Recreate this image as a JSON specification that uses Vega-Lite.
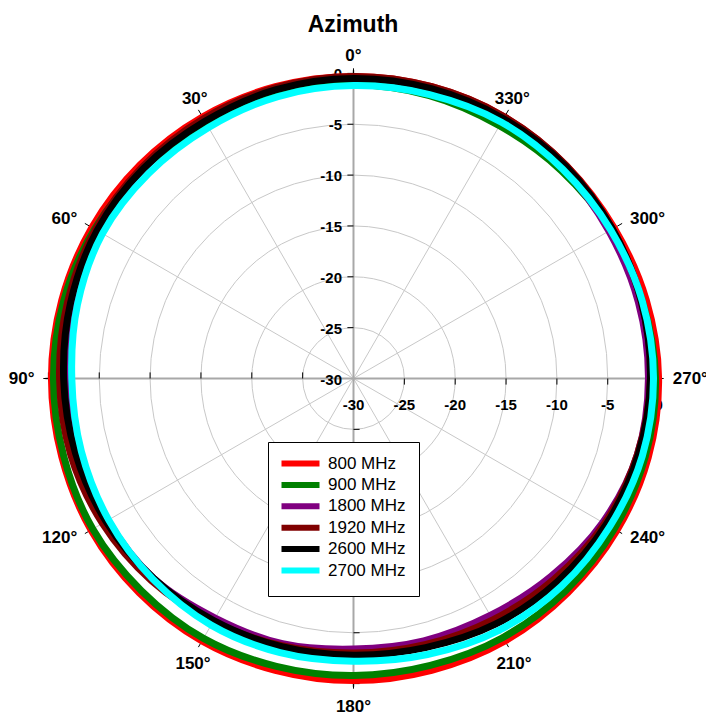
{
  "$schema": "https://vega.github.io/schema/vega-lite/v6.json",
  "width": 706,
  "height": 677,
  "autosize": {"type": "none"},
  "padding": {"top": 40, "left": 0, "right": 0, "bottom": 0},
  "background": "white",
  "title": {"text": "Azimuth", "font": "Liberation Sans", "fontSize": 23, "fontWeight": "bold", "color": "black", "anchor": "middle", "frame": "group", "offset": -15, "baseline": "alphabetic"},
  "config": {"view": {"stroke": null}},
  "datasets": {
    "pat": [
      {"f":"800 MHz","a":0,"d":-0.3},{"f":"800 MHz","a":15,"d":-0.3},{"f":"800 MHz","a":30,"d":-0.3},{"f":"800 MHz","a":45,"d":-0.3},{"f":"800 MHz","a":60,"d":-0.3},{"f":"800 MHz","a":75,"d":-0.3},{"f":"800 MHz","a":90,"d":-0.3},{"f":"800 MHz","a":105,"d":-0.3},{"f":"800 MHz","a":120,"d":-0.2},{"f":"800 MHz","a":135,"d":-0.2},{"f":"800 MHz","a":150,"d":-0.2},{"f":"800 MHz","a":165,"d":-0.3},{"f":"800 MHz","a":180,"d":-0.3},{"f":"800 MHz","a":195,"d":-0.3},{"f":"800 MHz","a":210,"d":-0.2},{"f":"800 MHz","a":225,"d":-0.2},{"f":"800 MHz","a":240,"d":-0.1},{"f":"800 MHz","a":255,"d":0.0},{"f":"800 MHz","a":270,"d":0.0},{"f":"800 MHz","a":285,"d":-0.2},{"f":"800 MHz","a":300,"d":-0.4},{"f":"800 MHz","a":315,"d":-0.4},{"f":"800 MHz","a":330,"d":-0.3},{"f":"800 MHz","a":345,"d":-0.3},
      {"f":"900 MHz","a":0,"d":-1.1},{"f":"900 MHz","a":15,"d":-0.9},{"f":"900 MHz","a":30,"d":-1.0},{"f":"900 MHz","a":45,"d":-0.8},{"f":"900 MHz","a":60,"d":-0.6},{"f":"900 MHz","a":75,"d":-0.5},{"f":"900 MHz","a":90,"d":-0.5},{"f":"900 MHz","a":105,"d":-0.5},{"f":"900 MHz","a":120,"d":-0.4},{"f":"900 MHz","a":135,"d":-0.5},{"f":"900 MHz","a":150,"d":-0.5},{"f":"900 MHz","a":165,"d":-0.7},{"f":"900 MHz","a":180,"d":-0.8},{"f":"900 MHz","a":195,"d":-0.8},{"f":"900 MHz","a":210,"d":-0.6},{"f":"900 MHz","a":225,"d":-0.5},{"f":"900 MHz","a":240,"d":-0.4},{"f":"900 MHz","a":255,"d":-0.3},{"f":"900 MHz","a":270,"d":-0.3},{"f":"900 MHz","a":285,"d":-0.6},{"f":"900 MHz","a":300,"d":-0.8},{"f":"900 MHz","a":315,"d":-1.1},{"f":"900 MHz","a":330,"d":-1.3},{"f":"900 MHz","a":345,"d":-1.2},
      {"f":"1800 MHz","a":0,"d":-0.4},{"f":"1800 MHz","a":15,"d":-0.5},{"f":"1800 MHz","a":30,"d":-0.7},{"f":"1800 MHz","a":45,"d":-0.8},{"f":"1800 MHz","a":60,"d":-1.0},{"f":"1800 MHz","a":75,"d":-1.4},{"f":"1800 MHz","a":90,"d":-1.8},{"f":"1800 MHz","a":105,"d":-2.0},{"f":"1800 MHz","a":120,"d":-2.1},{"f":"1800 MHz","a":135,"d":-2.2},{"f":"1800 MHz","a":150,"d":-2.8},{"f":"1800 MHz","a":165,"d":-3.0},{"f":"1800 MHz","a":180,"d":-3.4},{"f":"1800 MHz","a":195,"d":-3.3},{"f":"1800 MHz","a":210,"d":-3.1},{"f":"1800 MHz","a":225,"d":-2.5},{"f":"1800 MHz","a":240,"d":-1.7},{"f":"1800 MHz","a":255,"d":-1.1},{"f":"1800 MHz","a":270,"d":-1.0},{"f":"1800 MHz","a":285,"d":-1.0},{"f":"1800 MHz","a":300,"d":-1.0},{"f":"1800 MHz","a":315,"d":-0.8},{"f":"1800 MHz","a":330,"d":-0.5},{"f":"1800 MHz","a":345,"d":-0.4},
      {"f":"1920 MHz","a":0,"d":-0.3},{"f":"1920 MHz","a":15,"d":-0.4},{"f":"1920 MHz","a":30,"d":-0.5},{"f":"1920 MHz","a":45,"d":-0.6},{"f":"1920 MHz","a":60,"d":-0.7},{"f":"1920 MHz","a":75,"d":-0.9},{"f":"1920 MHz","a":90,"d":-1.1},{"f":"1920 MHz","a":105,"d":-1.2},{"f":"1920 MHz","a":120,"d":-1.5},{"f":"1920 MHz","a":135,"d":-1.9},{"f":"1920 MHz","a":150,"d":-2.4},{"f":"1920 MHz","a":165,"d":-2.8},{"f":"1920 MHz","a":180,"d":-3.0},{"f":"1920 MHz","a":195,"d":-2.9},{"f":"1920 MHz","a":210,"d":-2.6},{"f":"1920 MHz","a":225,"d":-2.1},{"f":"1920 MHz","a":240,"d":-1.5},{"f":"1920 MHz","a":255,"d":-1.1},{"f":"1920 MHz","a":270,"d":-0.8},{"f":"1920 MHz","a":285,"d":-0.7},{"f":"1920 MHz","a":300,"d":-0.6},{"f":"1920 MHz","a":315,"d":-0.4},{"f":"1920 MHz","a":330,"d":-0.3},{"f":"1920 MHz","a":345,"d":-0.3},
      {"f":"2600 MHz","a":0,"d":-0.5},{"f":"2600 MHz","a":15,"d":-0.6},{"f":"2600 MHz","a":30,"d":-0.8},{"f":"2600 MHz","a":45,"d":-0.8},{"f":"2600 MHz","a":60,"d":-0.9},{"f":"2600 MHz","a":75,"d":-1.2},{"f":"2600 MHz","a":90,"d":-1.5},{"f":"2600 MHz","a":105,"d":-1.7},{"f":"2600 MHz","a":120,"d":-1.9},{"f":"2600 MHz","a":135,"d":-2.2},{"f":"2600 MHz","a":150,"d":-2.5},{"f":"2600 MHz","a":165,"d":-2.7},{"f":"2600 MHz","a":180,"d":-2.8},{"f":"2600 MHz","a":195,"d":-2.6},{"f":"2600 MHz","a":210,"d":-2.1},{"f":"2600 MHz","a":225,"d":-1.7},{"f":"2600 MHz","a":240,"d":-1.3},{"f":"2600 MHz","a":255,"d":-1.0},{"f":"2600 MHz","a":270,"d":-0.8},{"f":"2600 MHz","a":285,"d":-0.7},{"f":"2600 MHz","a":300,"d":-0.6},{"f":"2600 MHz","a":315,"d":-0.5},{"f":"2600 MHz","a":330,"d":-0.5},{"f":"2600 MHz","a":345,"d":-0.5},
      {"f":"2700 MHz","a":0,"d":-1.2},{"f":"2700 MHz","a":15,"d":-1.3},{"f":"2700 MHz","a":30,"d":-1.5},{"f":"2700 MHz","a":45,"d":-1.5},{"f":"2700 MHz","a":60,"d":-1.5},{"f":"2700 MHz","a":75,"d":-1.9},{"f":"2700 MHz","a":90,"d":-2.3},{"f":"2700 MHz","a":105,"d":-2.3},{"f":"2700 MHz","a":120,"d":-2.2},{"f":"2700 MHz","a":135,"d":-2.1},{"f":"2700 MHz","a":150,"d":-2.0},{"f":"2700 MHz","a":165,"d":-2.1},{"f":"2700 MHz","a":180,"d":-2.2},{"f":"2700 MHz","a":195,"d":-1.9},{"f":"2700 MHz","a":210,"d":-1.4},{"f":"2700 MHz","a":225,"d":-1.1},{"f":"2700 MHz","a":240,"d":-0.9},{"f":"2700 MHz","a":255,"d":-0.6},{"f":"2700 MHz","a":270,"d":-0.5},{"f":"2700 MHz","a":285,"d":-0.6},{"f":"2700 MHz","a":300,"d":-0.8},{"f":"2700 MHz","a":315,"d":-0.9},{"f":"2700 MHz","a":330,"d":-0.9},{"f":"2700 MHz","a":345,"d":-1.1}
    ],
    "rlab": [
      {"v":-30,"t":"-30"},{"v":-25,"t":"-25"},{"v":-20,"t":"-20"},{"v":-15,"t":"-15"},{"v":-10,"t":"-10"},{"v":-5,"t":"-5"},{"v":0,"t":"0"}
    ],
    "rtick": [{"v":-25},{"v":-20},{"v":-15},{"v":-10},{"v":-5},{"v":0}]
  },
  "encoding": {
    "x": {"field": "px", "type": "quantitative", "scale": {"domain": [-34.759, 34.661], "nice": false, "zero": false}, "axis": null},
    "y": {"field": "py", "type": "quantitative", "scale": {"domain": [-33.284, 33.284], "nice": false, "zero": false}, "axis": null}
  },
  "layer": [
    {
      "data": {"values": [{"v": -25}, {"v": -20}, {"v": -15}, {"v": -10}, {"v": -5}]},
      "transform": [{"calculate": "datum.v + 30", "as": "rr"}, {"calculate": "0", "as": "px"}, {"calculate": "0", "as": "py"}],
      "mark": {"type": "point", "shape": "circle", "filled": false, "stroke": "#c8c8c8", "strokeWidth": 1, "opacity": 1},
      "encoding": {
        "size": {"field": "rr", "type": "quantitative", "legend": null, "scale": {"type": "pow", "exponent": 2, "domain": [0, 30], "range": [0, 372344], "zero": true}}
      }
    },
    {
      "data": {"values": [{"a": 30}, {"a": 60}, {"a": 120}, {"a": 150}, {"a": 210}, {"a": 240}, {"a": 300}, {"a": 330}]},
      "transform": [
        {"calculate": "0", "as": "px"}, {"calculate": "0", "as": "py"},
        {"calculate": "-30*sin(datum.a*PI/180)", "as": "px2"},
        {"calculate": "30*cos(datum.a*PI/180)", "as": "py2"}
      ],
      "mark": {"type": "rule", "stroke": "#c8c8c8", "strokeWidth": 1},
      "encoding": {"x2": {"field": "px2"}, "y2": {"field": "py2"}}
    },
    {
      "data": {"values": [{"a": 0}, {"a": 90}, {"a": 180}, {"a": 270}]},
      "transform": [
        {"calculate": "0", "as": "px"}, {"calculate": "0", "as": "py"},
        {"calculate": "-30.3*sin(datum.a*PI/180)", "as": "px2"},
        {"calculate": "30.3*cos(datum.a*PI/180)", "as": "py2"}
      ],
      "mark": {"type": "rule", "stroke": "#a8a8a8", "strokeWidth": 2},
      "encoding": {"x2": {"field": "px2"}, "y2": {"field": "py2"}}
    },
    {
      "data": {"name": "rtick"},
      "transform": [{"calculate": "-0.6", "as": "px"}, {"calculate": "datum.v+30", "as": "py"}, {"calculate": "0", "as": "px2"}],
      "mark": {"type": "rule", "stroke": "black", "strokeWidth": 1},
      "encoding": {"x2": {"field": "px2"}}
    },
    {
      "data": {"name": "rtick"},
      "transform": [{"calculate": "-(datum.v+30)", "as": "px"}, {"calculate": "0", "as": "py"}, {"calculate": "0.6", "as": "py2"}],
      "mark": {"type": "rule", "stroke": "black", "strokeWidth": 1},
      "encoding": {"y2": {"field": "py2"}}
    },
    {
      "data": {"name": "rtick"},
      "transform": [{"calculate": "0.6", "as": "px"}, {"calculate": "-(datum.v+30)", "as": "py"}, {"calculate": "0", "as": "px2"}],
      "mark": {"type": "rule", "stroke": "black", "strokeWidth": 1},
      "encoding": {"x2": {"field": "px2"}}
    },
    {
      "data": {"name": "rtick"},
      "transform": [{"calculate": "datum.v+30", "as": "px"}, {"calculate": "0", "as": "py"}, {"calculate": "-0.6", "as": "py2"}],
      "mark": {"type": "rule", "stroke": "black", "strokeWidth": 1},
      "encoding": {"y2": {"field": "py2"}}
    },
    {
      "data": {"values": [{"a": 0}, {"a": 30}, {"a": 60}, {"a": 90}, {"a": 120}, {"a": 150}, {"a": 180}, {"a": 210}, {"a": 240}, {"a": 270}, {"a": 300}, {"a": 330}]},
      "transform": [
        {"calculate": "-29.95*sin(datum.a*PI/180)", "as": "px"},
        {"calculate": "29.95*cos(datum.a*PI/180)", "as": "py"},
        {"calculate": "-30.5*sin(datum.a*PI/180)", "as": "px2"},
        {"calculate": "30.5*cos(datum.a*PI/180)", "as": "py2"}
      ],
      "mark": {"type": "rule", "stroke": "black", "strokeWidth": 1},
      "encoding": {"x2": {"field": "px2"}, "y2": {"field": "py2"}}
    },
    {
      "data": {"name": "rlab"},
      "transform": [{"calculate": "0", "as": "px"}, {"calculate": "datum.v+30", "as": "py"}],
      "mark": {"type": "text", "align": "right", "baseline": "middle", "dx": -11.5, "dy": 1, "font": "Liberation Sans", "fontSize": 15, "fontWeight": "bold", "color": "black"},
      "encoding": {"text": {"field": "t"}}
    },
    {
      "data": {"name": "rlab"},
      "transform": [{"calculate": "datum.v+30", "as": "px"}, {"calculate": "0", "as": "py"}],
      "mark": {"type": "text", "align": "center", "baseline": "middle", "dy": 26, "font": "Liberation Sans", "fontSize": 15, "fontWeight": "bold", "color": "black"},
      "encoding": {"text": {"field": "t"}}
    },
    {
      "data": {"values": [{"a": 330, "t": "330°"}, {"a": 0, "t": "0°"}, {"a": 30, "t": "30°"}]},
      "transform": [{"calculate": "-31.22*sin(datum.a*PI/180)", "as": "px"}, {"calculate": "31.22*cos(datum.a*PI/180)", "as": "py"}],
      "mark": {"type": "text", "align": "center", "baseline": "alphabetic", "font": "Liberation Sans", "fontSize": 17, "fontWeight": "bold", "color": "black"},
      "encoding": {"text": {"field": "t"}}
    },
    {
      "data": {"values": [{"a": 60, "t": "60°"}, {"a": 90, "t": "90°"}, {"a": 120, "t": "120°"}]},
      "transform": [{"calculate": "-31.37*sin(datum.a*PI/180)", "as": "px"}, {"calculate": "31.37*cos(datum.a*PI/180)", "as": "py"}],
      "mark": {"type": "text", "align": "right", "baseline": "middle", "font": "Liberation Sans", "fontSize": 17, "fontWeight": "bold", "color": "black"},
      "encoding": {"text": {"field": "t"}}
    },
    {
      "data": {"values": [{"a": 150, "t": "150°"}, {"a": 180, "t": "180°"}, {"a": 210, "t": "210°"}]},
      "transform": [{"calculate": "-31.56*sin(datum.a*PI/180)", "as": "px"}, {"calculate": "31.56*cos(datum.a*PI/180)", "as": "py"}],
      "mark": {"type": "text", "align": "center", "baseline": "top", "font": "Liberation Sans", "fontSize": 17, "fontWeight": "bold", "color": "black"},
      "encoding": {"text": {"field": "t"}}
    },
    {
      "data": {"values": [{"a": 240, "t": "240°"}, {"a": 270, "t": "270°"}, {"a": 300, "t": "300°"}]},
      "transform": [{"calculate": "-31.39*sin(datum.a*PI/180)", "as": "px"}, {"calculate": "31.39*cos(datum.a*PI/180)", "as": "py"}],
      "mark": {"type": "text", "align": "left", "baseline": "middle", "font": "Liberation Sans", "fontSize": 17, "fontWeight": "bold", "color": "black"},
      "encoding": {"text": {"field": "t"}}
    },
    {
      "data": {"name": "pat"},
      "transform": [
        {"calculate": "datum.d + 30", "as": "rr"},
        {"calculate": "-datum.rr*sin(datum.a*PI/180)", "as": "px"},
        {"calculate": "datum.rr*cos(datum.a*PI/180)", "as": "py"}
      ],
      "mark": {"type": "line", "interpolate": "cardinal-closed", "strokeWidth": 7},
      "encoding": {
        "order": {"field": "a", "type": "quantitative"},
        "color": {
          "field": "f", "type": "nominal",
          "scale": {"domain": ["800 MHz", "900 MHz", "1800 MHz", "1920 MHz", "2600 MHz", "2700 MHz"], "range": ["#ff0000", "#008000", "#800080", "#800000", "#000000", "#00ffff"]},
          "legend": {
            "title": null, "orient": "none", "legendX": 268, "legendY": 402,
            "symbolType": "M-4,0H4", "symbolSize": 90.25, "symbolStrokeWidth": 6,
            "labelFont": "Liberation Sans", "labelFontSize": 17, "labelColor": "black",
            "fillColor": "white", "strokeColor": "black",
            "padding": 13, "rowPadding": -3.6, "symbolOffset": 11, "labelOffset": 19
          }
        }
      }
    }
  ]
}
